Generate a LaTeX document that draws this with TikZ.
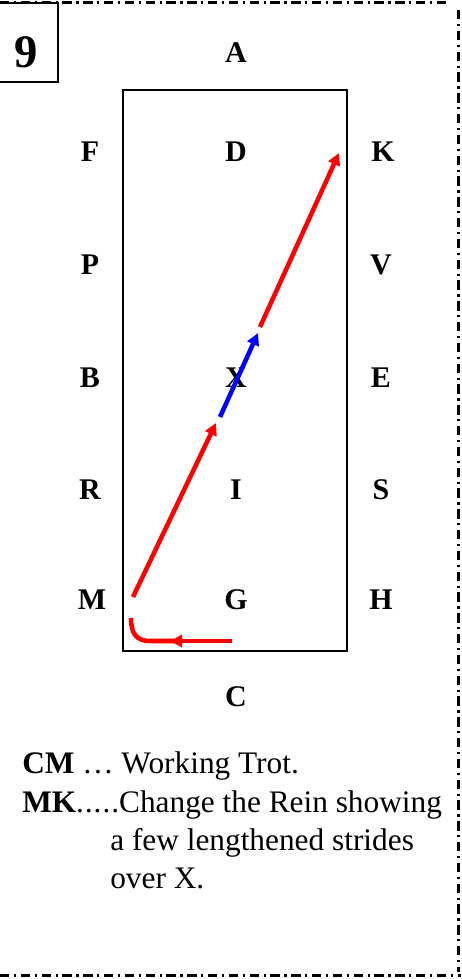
\documentclass[tikz,border=0pt]{standalone}
\usepackage{fontspec}
\setmainfont{Liberation Serif}
\usetikzlibrary{arrows.meta}

\tikzset{
  marker/.style={font=\fontsize{22.5}{27}\selectfont\bfseries, inner sep=0pt, anchor=base},
  script/.style={font=\fontsize{23.5}{29}\selectfont, inner sep=0pt, anchor=base west},
  ride/.style={line width=3.4pt, -{Triangle[length=9pt,width=9pt]}},
  frameline/.style={line width=1.6pt, dash pattern=on 7pt off 3.5pt on 1.6pt off 3.5pt}
}

\begin{document}
\begin{tikzpicture}[x=0.75pt, y=-0.75pt]
    \useasboundingbox (0,0) rectangle (461,979);

        % Page frame
        \draw[frameline] (0,2.5) -- (446,2.5);
        \draw[frameline] (458.5,10) -- (458.5,972);
        \draw[frameline] (0,975.5) -- (461,975.5);

        % Test number
        \draw[line width=1.6pt] (-3,3) rectangle (58,82);
        \node[font=\fontsize{35}{40}\selectfont\bfseries, inner sep=0pt, anchor=base] (num) at (26,67) {9};

        % Arena
        \draw[line width=1.5pt] (123,90) rectangle (347,651);

        % Letters
        \node[marker] (A) at (236,62) {A};
        \node[marker] (F) at (90,161) {F};
        \node[marker] (D) at (236,161) {D};
        \node[marker] (K) at (383,161) {K};
        \node[marker] (P) at (90,274) {P};
        \node[marker] (V) at (381,274) {V};
        \node[marker] (B) at (90,387) {B};
        \node[marker] (X) at (236,387) {X};
        \node[marker] (E) at (381,387) {E};
        \node[marker] (R) at (90,499) {R};
        \node[marker] (I) at (236,499) {I};
        \node[marker] (S) at (381,499) {S};
        \node[marker] (M) at (92,609) {M};
        \node[marker] (G) at (236,609) {G};
        \node[marker] (H) at (381,609) {H};
        \node[marker] (C) at (236,706) {C};

        % Track points
        \coordinate (c0) at (232,641);
        \coordinate (c1) at (170,641);
        \coordinate (c2) at (131,618);
        \coordinate (m0) at (133,597);
        \coordinate (m1) at (216,423);
        \coordinate (x0) at (220,417);
        \coordinate (x1) at (258,333);
        \coordinate (k0) at (260,327);
        \coordinate (k1) at (339,153);

        % Track
        \draw[ride, red] (c0) -- (c1);
        \draw[red, line width=3.4pt] (175,641) -- (150,641) .. controls (136,641) and (131,633) .. (c2);
        \draw[ride, red] (m0) -- (m1);
        \draw[ride, blue] (x0) -- (x1);
        \draw[ride, red] (k0) -- (k1);

        % Movements
        \node[script] (cm) at (22,773) {\textbf{CM} \dots{} Working Trot.};
        \node[script] (mk) at (22,812) {\textbf{MK}.\kern.7pt.\kern.7pt.\kern.7pt.\kern.7pt.Change the Rein showing};
        \node[script] (mk2) at (110,850) {a few lengthened strides};
        \node[script] (mk3) at (110,888) {over X.};
    \end{tikzpicture}
\end{document}
